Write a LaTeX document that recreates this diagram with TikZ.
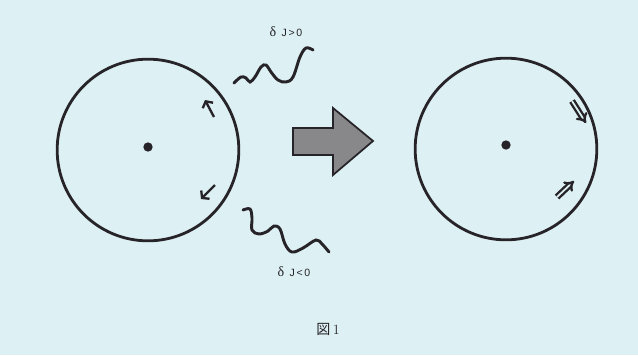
\documentclass[tikz,border=0pt]{standalone}
\usepackage{fontspec}
\newfontfamily\jpfont{Noto Sans CJK JP}
\newfontfamily\lblfont{Liberation Sans}
\newfontfamily\grkfont{Liberation Serif}
\usetikzlibrary{arrows.meta,positioning}
\definecolor{paper}{RGB}{221,240,243}
\definecolor{ink}{RGB}{38,36,40}

\begin{document}
\begin{tikzpicture}[
    x=0.03cm, y=-0.03cm,
    ring/.style={circle, draw=ink, line width=2.4pt, minimum size=5.45cm, inner sep=0pt},
    hub/.style={circle, fill=ink, minimum size=0.28cm, inner sep=0pt},
    spin/.style={draw=ink, line width=2pt, -{Straight Barb[length=4pt, width=10pt, line width=2pt]}},
    dspin/.style={draw=ink, line width=2pt, double=paper, double distance=1.5pt, -{Implies[scale=1.2]}},
    wave/.style={draw=ink, line width=2.5pt, line cap=round},
    lbl/.style={font=\small, text=ink}
]

\fill[paper] (0,0) rectangle (638,355);
\useasboundingbox (0,0) rectangle (638,355);

\node[ring] (before) at (148,150) {};
\node[hub] (c1) at (148,147) {};
\node[ring] (after) at (506,149) {};
\node[hub] (c2) at (506,145) {};

% spins on the left
\coordinate (s1a) at (214,117);
\coordinate (s1b) at (205,100);
\coordinate (s2a) at (215,185);
\coordinate (s2b) at (201,199);
\draw[spin] (s1a) -- (s1b);
\draw[spin] (s2a) -- (s2b);

% spins on the right
\coordinate (d1a) at (572,101);
\coordinate (d1b) at (586,123);
\coordinate (d2a) at (557,197);
\coordinate (d2b) at (574,181);
\draw[dspin] (d1a) -- (d1b);
\draw[dspin] (d2a) -- (d2b);

% waves
\draw[wave] plot[smooth, tension=0.6] coordinates {(234,83) (241,77) (246,78) (250,82) (255,77) (261,67) (266,65) (271,72) (278,80) (286,82) (293,77) (300,57) (306,48) (313,50)};
\draw[wave] plot[smooth, tension=0.6] coordinates {(243,210) (250,209) (252,218) (252,230) (259,234) (268,231) (274,226) (280,229) (285,244) (292,252) (303,248) (316,240) (322,244) (329,252)};

\node[lbl] (up) at (286,32) {{\large\grkfont δ}\enspace{\lblfont J\,>\,0}};
\node[lbl] (down) at (294,272) {{\large\grkfont δ}\enspace{\lblfont J\,<\,0}};

% big arrow
\filldraw[draw=ink, fill=ink!55, line width=1.5pt, line join=miter]
    (293,128) -- (333,128) -- (333,108) -- (373,141) -- (333,175) -- (333,155) -- (293,155) -- cycle;

\node[text=ink, font=\large] (cap) at (328,329) {{\jpfont 図}\,1};

\end{tikzpicture}
\end{document}
